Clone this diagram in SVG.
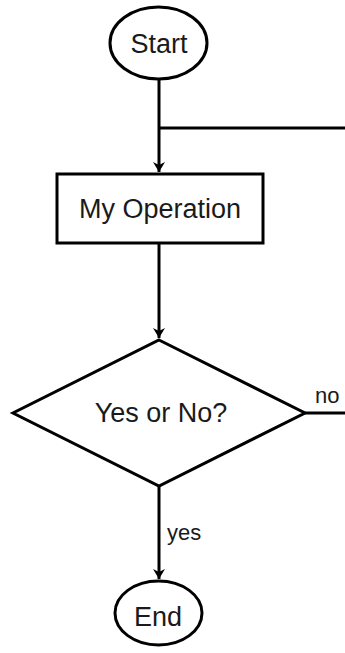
<svg xmlns="http://www.w3.org/2000/svg" width="345" height="653" viewBox="0 0 345 653">
<style>
.shape{fill:#fff;stroke:#000;stroke-width:3}
.edge{fill:none;stroke:#000;stroke-width:3}
.lbl{font-family:"Liberation Sans",Arial,sans-serif;font-size:27px;fill:#1a1a1a;text-anchor:middle}
.elbl{font-family:"Liberation Sans",Arial,sans-serif;font-size:22px;fill:#1a1a1a}
</style>
<defs>
<marker id="arr" viewBox="0 0 10 12" refX="10" refY="6" markerWidth="10" markerHeight="12" markerUnits="userSpaceOnUse" orient="auto">
<path d="M0,0 L10,6 L0,12 L3,6 Z" fill="#000"/>
</marker>
</defs>
<g id="connectors">
<path class="edge" d="M159,79 V172" marker-end="url(#arr)"/>
<path class="edge" d="M159,128 H345"/>
<path class="edge" d="M159,244 V338" marker-end="url(#arr)"/>
<path class="edge" d="M305,413 H345"/>
<path class="edge" d="M159,486 V579" marker-end="url(#arr)"/>
<text class="elbl" x="315" y="403">no</text>
<text class="elbl" x="167" y="540">yes</text>
</g>
<g id="start">
<ellipse class="shape" cx="158.5" cy="43" rx="48.5" ry="36"/>
<text class="lbl" x="159" y="53">Start</text>
</g>
<g id="operation">
<rect class="shape" x="57" y="174" width="206" height="69"/>
<text class="lbl" x="160" y="218">My Operation</text>
</g>
<g id="decision">
<polygon class="shape" points="159,340 305,413 159,486 13,413"/>
<text class="lbl" x="161" y="422">Yes or No?</text>
</g>
<g id="end">
<ellipse class="shape" cx="158.5" cy="613" rx="43.5" ry="32"/>
<text class="lbl" x="158" y="626">End</text>
</g>
</svg>
